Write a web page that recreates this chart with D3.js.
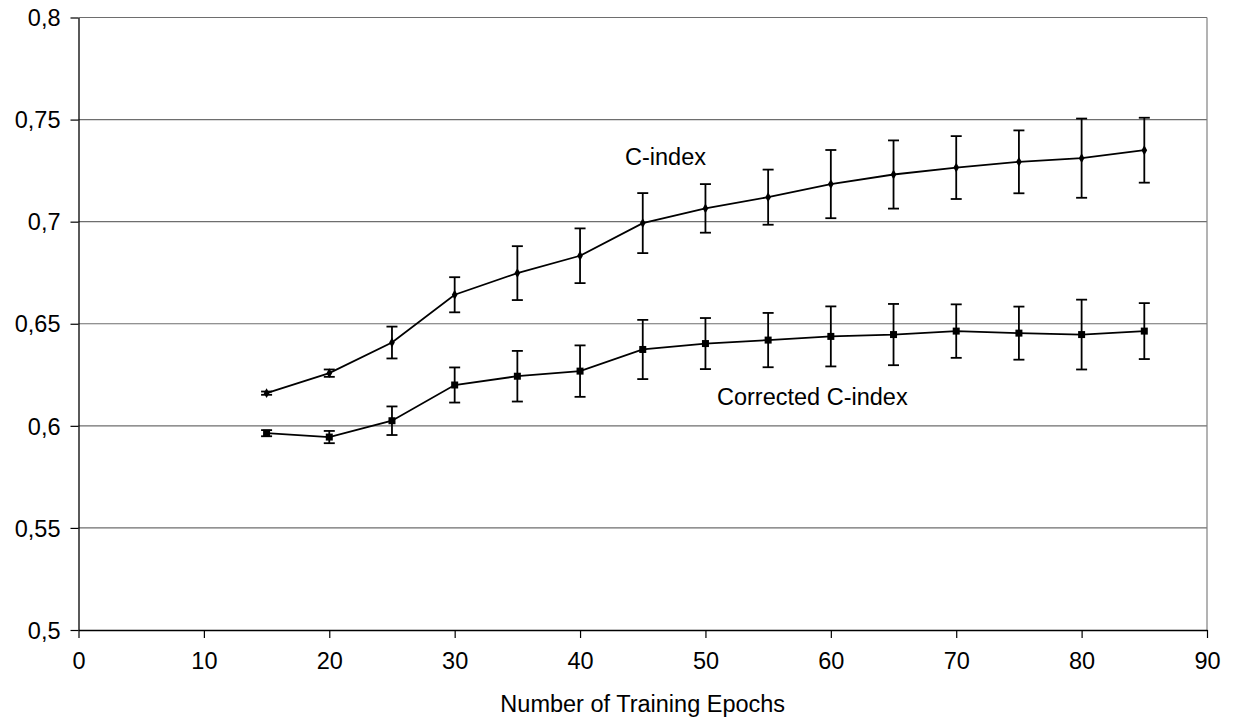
<!DOCTYPE html>
<html>
<head>
<meta charset="utf-8">
<script src="https://cdn.jsdelivr.net/npm/d3@7"></script>
<style>
  html, body { margin: 0; padding: 0; background: #fff; }
  svg { display: block; font-family: "Liberation Sans", Arial, sans-serif; }
</style>
</head>
<body>
<svg id="chart" width="1235" height="725"></svg>
<script>
const epochs = [15, 20, 25, 30, 35, 40, 45, 50, 55, 60, 65, 70, 75, 80, 85];
const cIndex = [0.616, 0.6258, 0.6408, 0.6642, 0.6748, 0.6833, 0.6993, 0.7065, 0.712, 0.7184, 0.7231, 0.7265, 0.7293, 0.7311, 0.735];
const cIndexErr = [0.0008, 0.0018, 0.0078, 0.0086, 0.0132, 0.0134, 0.0147, 0.0119, 0.0135, 0.0167, 0.0167, 0.0154, 0.0154, 0.0194, 0.0159];
const corrected = [0.5964, 0.5945, 0.6025, 0.62, 0.6243, 0.6268, 0.6374, 0.6403, 0.642, 0.6438, 0.6447, 0.6464, 0.6454, 0.6447, 0.6464];
const correctedErr = [0.0015, 0.003, 0.007, 0.0086, 0.0124, 0.0126, 0.0145, 0.0125, 0.0133, 0.0147, 0.015, 0.0131, 0.013, 0.0171, 0.0137];
const xTicks = [0, 10, 20, 30, 40, 50, 60, 70, 80, 90];
const yTicks = [0.5, 0.55, 0.6, 0.65, 0.7, 0.75, 0.8];
const seriesLabels = ["C-index", "Corrected C-index"];
const xTitle = "Number of Training Epochs";

const svg = d3.select("#chart");
const margin = { left: 78.5, right: 1207, top: 17.5, bottom: 630 };
const x = d3.scaleLinear().domain([0, 90]).range([margin.left, margin.right]);
const y = d3.scaleLinear().domain([0.5, 0.8]).range([margin.bottom, margin.top]);
const fmt = d => String(d).replace(".", ",");
const fontSize = 23.5;

// Gridlines (grey)
svg.append("g").selectAll("line").data(yTicks.filter(d => d > 0.5)).join("line")
  .attr("x1", margin.left).attr("x2", margin.right)
  .attr("y1", d => y(d)).attr("y2", d => y(d))
  .attr("stroke", "#6e6e6e").attr("stroke-width", 1.2);
// Right border (grey)
svg.append("line")
  .attr("x1", margin.right).attr("x2", margin.right)
  .attr("y1", margin.top).attr("y2", margin.bottom)
  .attr("stroke", "#808080").attr("stroke-width", 1.2);

// Axes
const xAxis = d3.axisBottom(x).tickValues(xTicks).tickSize(8).tickFormat(fmt).tickSizeOuter(0);
const yAxis = d3.axisLeft(y).tickValues(yTicks).tickSize(8).tickFormat(fmt).tickSizeOuter(0);
const gx = svg.append("g").attr("transform", `translate(0,${margin.bottom})`).call(xAxis);
const gy = svg.append("g").attr("transform", `translate(${margin.left},0)`).call(yAxis);
[gx, gy].forEach(g => {
  g.select(".domain").attr("stroke", "#000").attr("stroke-width", 1.3);
  g.selectAll(".tick line").attr("stroke", "#000").attr("stroke-width", 1.2);
  g.selectAll(".tick text").attr("fill", "#000")
    .style("font-size", fontSize + "px")
    .style("font-family", '"Liberation Sans", Arial, sans-serif');
});
gx.selectAll(".tick text").attr("y", 22).attr("dy", "0.71em");
gy.selectAll(".tick text").attr("x", -18).attr("dy", "0.35em");

// Axis title
svg.append("text")
  .attr("x", (margin.left + margin.right) / 2).attr("y", 712)
  .attr("text-anchor", "middle").style("font-size", fontSize + "px")
  .text(xTitle);

function drawSeries(vals, errs, marker) {
  const data = epochs.map((e, i) => ({ e, v: vals[i], err: errs[i] }));
  const g = svg.append("g");
  const line = d3.line().x(d => x(d.e)).y(d => y(d.v));
  g.append("path").datum(data).attr("d", line)
    .attr("fill", "none").attr("stroke", "#000").attr("stroke-width", 1.8);
  const eb = g.selectAll("g.eb").data(data).join("g");
  eb.append("line")
    .attr("x1", d => x(d.e)).attr("x2", d => x(d.e))
    .attr("y1", d => y(d.v - d.err)).attr("y2", d => y(d.v + d.err))
    .attr("stroke", "#000").attr("stroke-width", 1.8);
  [1, -1].forEach(s => {
    eb.append("line")
      .attr("x1", d => x(d.e) - 5.5).attr("x2", d => x(d.e) + 5.5)
      .attr("y1", d => y(d.v + s * d.err)).attr("y2", d => y(d.v + s * d.err))
      .attr("stroke", "#000").attr("stroke-width", 1.8);
  });
  if (marker === "square") {
    g.selectAll("rect.m").data(data).join("rect")
      .attr("x", d => x(d.e) - 3.5).attr("y", d => y(d.v) - 3.5)
      .attr("width", 7).attr("height", 7).attr("fill", "#000");
  } else {
    const sym = d3.symbol().type(d3.symbolDiamond).size(28);
    g.selectAll("path.m").data(data).join("path")
      .attr("d", sym).attr("transform", d => `translate(${x(d.e)},${y(d.v)})`)
      .attr("fill", "#000");
  }
}
drawSeries(cIndex, cIndexErr, "diamond");
drawSeries(corrected, correctedErr, "square");

// Series labels
svg.append("text").attr("x", 625).attr("y", 165)
  .style("font-size", fontSize + "px").text(seriesLabels[0]);
svg.append("text").attr("x", 717).attr("y", 405)
  .style("font-size", fontSize + "px").text(seriesLabels[1]);
</script>
</body>
</html>
